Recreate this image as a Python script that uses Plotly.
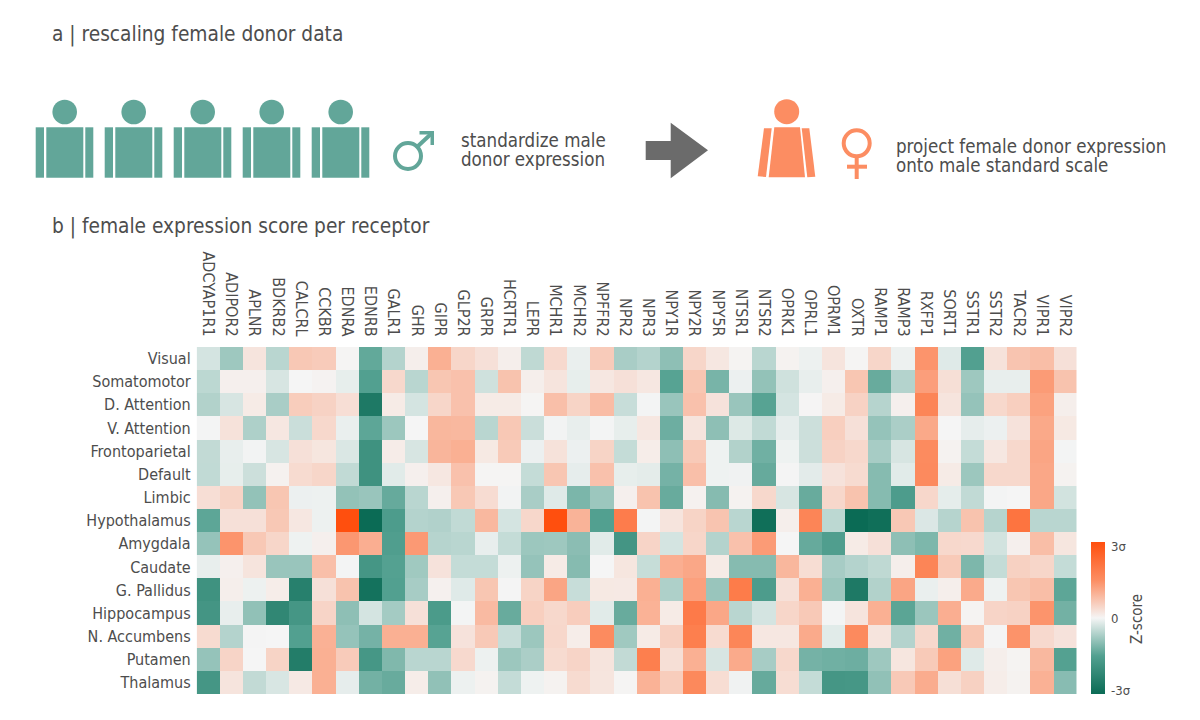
import plotly.graph_objects as go

receptors = ["ADCYAP1R1","ADIPOR2","APLNR","BDKRB2","CALCRL","CCKBR","EDNRA","EDNRB","GALR1","GHR","GIPR","GLP2R","GRPR","HCRTR1","LEPR","MCHR1","MCHR2","NPFFR2","NPR2","NPR3","NPY1R","NPY2R","NPY5R","NTSR1","NTSR2","OPRK1","OPRL1","OPRM1","OXTR","RAMP1","RAMP3","RXFP1","SORT1","SSTR1","SSTR2","TACR2","VIPR1","VIPR2"]
regions = ["Visual","Somatomotor","D. Attention","V. Attention","Frontoparietal","Default","Limbic","Hypothalamus","Amygdala","Caudate","G. Pallidus","Hippocampus","N. Accumbens","Putamen","Thalamus"]

visual = [-0.3,-0.8,0.25,-0.55,0.65,0.6,0.02,-1.35,-0.6,0.1,1.0,0.45,0.3,0.1,-0.5,0.4,-0.1,0.6,-0.7,-0.6,-0.95,0.45,0.2,0.03,-0.55,0.05,-0.07,0.25,0.02,0.45,-0.07,1.4,-0.2,-1.5,0.28,0.7,0.8,0.3]
somatomotor = [-0.52,0.08,0.08,-0.28,0,0.04,-0.13,-1.5,0.42,-0.55,0.68,0.75,-0.35,0.72,0.1,0.25,-0.13,0.2,0.3,0.2,-1.45,0.68,-1.15,-0.08,-0.9,-0.35,-0.12,0.08,0.68,-1.3,-0.6,1.25,0.32,-0.8,-0.12,-0.12,1.3,0.72]
d_attention = [-0.62,-0.28,0.15,-0.7,0.58,0.5,0.33,-2.6,0.15,-0.3,0.45,0.75,0.15,0.15,0.02,0.78,0.48,0.82,-0.42,-0.02,-0.85,0.75,0.27,-0.85,-1.45,-0.3,0.01,0.15,0.5,-0.58,0.08,1.7,0.25,-0.88,0.42,0.55,1.2,0.1]
v_attention = [-0.02,0.28,-0.65,0.2,-0.4,0.42,-0.1,-1.4,-0.82,0,0.9,0.88,-0.55,0.65,-0.4,-0.03,-0.12,-0.02,-0.13,0.2,-1.25,0.25,-0.95,-0.22,-0.48,-0.14,-0.38,0.55,0.3,-0.88,-0.68,1.1,0,-0.14,-0.08,0.27,1.1,0.18]
frontoparietal = [-0.47,-0.12,-0.03,-0.28,0.3,0.22,-0.25,-1.9,0.13,-0.28,0.92,1.0,0.18,0.62,-0.08,0.28,-0.08,0.48,-0.45,0.12,-0.95,0.62,-0.06,-0.62,-1.22,-0.06,-0.38,0.5,0.42,-0.72,-0.28,1.55,0.05,-0.45,0.2,0.42,1.15,-0.02]
default = [-0.48,-0.13,-0.38,0.06,0.38,0.45,-0.48,-1.9,-0.18,0.08,0.2,0.75,0.02,0.02,-0.45,0.68,-0.14,0.75,-0.13,-0.16,-1.18,0.78,-0.06,-0.05,-1.32,-0.01,-0.17,0.27,0.38,-1.02,-0.18,1.58,0.15,-0.82,0.42,0.42,1.12,0.05]
limbic = [0.33,0.48,-0.9,0.68,-0.08,-0.07,-0.9,-0.85,-1.32,-0.55,0.08,0.65,0.36,-0.03,-0.7,-0.2,-1.12,-0.82,0.08,0.72,-1.3,0.06,-1.02,0.05,0.42,-0.28,-1.3,0.43,0.72,-1.02,-1.6,0.43,-0.15,-0.48,-0.02,0,1.12,-0.32]
hypothalamus = [-1.4,0.3,0.3,0.65,0.2,-0.07,3,-3,-1.6,-0.6,-0.63,-0.48,0.88,-0.3,0.43,3,0.95,-1.5,1.9,-0.02,0.25,0.48,0.7,-0.55,-2.9,0.1,1.7,-0.52,-3,-2.9,0.65,-0.24,-0.58,0.72,-0.58,2.1,-0.55,-0.55]
amygdala = [-0.88,1.4,0.65,0.45,-0.06,0.08,1.35,1.02,-1.55,1.32,-0.58,-0.55,-0.12,-0.45,-0.82,-0.8,-0.98,-0.18,-1.8,0.47,-0.3,0.45,-0.6,0.75,1.3,0,-1.32,-1.55,0.15,0.3,-0.95,-1.1,0.42,0.4,-0.32,0.08,0.8,0.22]
caudate = [-0.12,0.08,0.25,-0.85,-0.85,0.78,-0.02,-1.78,-1.48,-0.78,0.27,-0.45,-0.45,-0.07,-0.88,0.15,-1.02,0,0.22,-0.43,1.02,1.12,0.15,-1.02,-1.02,0.9,0.35,-0.72,-0.6,-0.5,0.1,1.7,0.62,-1.1,-0.45,0.52,0.45,-0.45]
g_pallidus = [-1.9,0.1,-0.07,0.12,-2.4,0.3,0.72,-2.8,-1.5,-0.72,0.07,-0.2,0.68,-0.01,0.48,1.15,-0.42,0.18,0.17,1.0,-0.65,1.22,-0.85,1.92,-1.6,0.3,1.0,-0.82,-2.6,-0.62,1.15,-0.1,0.1,1.08,-0.06,0.68,0.8,-1.4]
hippocampus = [-1.8,-0.12,-0.92,-2.2,-1.78,0.47,-0.95,-0.3,-0.75,0.3,-1.65,-0.02,0.85,-1.3,0.55,0.42,0.57,-0.18,-1.3,0.97,0.15,1.95,1.12,-0.55,-0.3,0.45,0.63,-0.02,0.25,1.0,-1.42,-0.83,1.02,0.03,0.47,0.5,1.4,-1.2]
n_accumbens = [0.38,-0.6,-0.01,0,-1.5,0.98,-0.88,-1.18,1,1,-1.45,0.27,0.63,-0.42,-0.82,0.43,0.12,1.55,-0.78,0.15,0.53,1.85,0.38,1.68,0.2,0.2,1.08,-0.18,1.58,0.25,-0.6,0.42,-1.22,0.68,-0.01,1.42,0.4,0.27]
putamen = [-0.88,0.47,0,0.48,-2.5,1.0,0.6,-1.75,-1.08,-0.55,-0.55,0.4,-0.07,-0.82,-0.68,0.38,0.47,0.25,-0.47,1.85,0.32,1.0,-0.28,1.08,-0.72,0.42,-1.18,-1.22,-1.25,-0.8,0.22,0.62,1.2,-0.2,0.1,0.03,0.88,-1.48]
thalamus = [-1.78,0.25,-0.47,-0.27,0.17,1.0,-0.14,-1.2,-1.3,0.12,-0.92,-0.07,0.05,-0.45,-0.06,0.05,0.38,0.23,0.02,0.97,0.58,1.6,0.35,-0.05,-1.32,0.35,-0.45,-1.78,-1.75,-0.92,0.63,1.05,0.32,0.52,0.12,0.05,0.98,-1.0]

z = [visual,somatomotor,d_attention,v_attention,frontoparietal,default,limbic,hypothalamus,amygdala,caudate,g_pallidus,hippocampus,n_accumbens,putamen,thalamus]

W, H = 1200, 720
FONT = "DejaVu Sans Condensed, DejaVu Sans"
TXT = "#4d4d4d"
TEAL = "#62a699"
CORAL = "#fc8d62"
GREY = "#6b6b6b"
px = lambda x: x / W
py = lambda y: 1 - y / H

colorscale = [[0, "#0b6b55"], [0.25, "#52a090"], [0.5, "#f5f5f5"], [0.75, "#fc8d62"], [1, "#ff4f0e"]]

fig = go.Figure(go.Heatmap(
    z=z, x=receptors, y=regions, zmin=-3, zmax=3, colorscale=colorscale, xgap=0, ygap=0,
    colorbar=dict(
        x=px(1091), xanchor="left", y=py(694.3), yanchor="bottom", len=(694.3-542.7)/H, lenmode="fraction",
        thickness=14, thicknessmode="pixels", outlinewidth=0, ticks="outside", ticklen=4, tickcolor="rgba(0,0,0,0)", xpad=0, ypad=0,
        tickvals=[-2.85, 0, 2.85], ticktext=["-3σ", "0", "3σ"],
        tickfont=dict(size=13, color=TXT, family=FONT),
    ),
))

shapes = []
def path(points, color):
    d = "M " + " L ".join(f"{px(x):.5f},{py(y):.5f}" for x, y in points) + " Z"
    shapes.append(dict(type="path", path=d, xref="paper", yref="paper", fillcolor=color, line=dict(width=0)))
def circle(cx, cy, r, fill=None, stroke=None, w=0):
    shapes.append(dict(type="circle", xref="paper", yref="paper", x0=px(cx-r), x1=px(cx+r), y0=py(cy+r), y1=py(cy-r),
                       fillcolor=fill if fill else "rgba(0,0,0,0)", line=dict(color=stroke if stroke else "rgba(0,0,0,0)", width=w)))
def line(x0, y0, x1, y1, color, w):
    shapes.append(dict(type="line", xref="paper", yref="paper", x0=px(x0), x1=px(x1), y0=py(y0), y1=py(y1), line=dict(color=color, width=w)))

for i in range(5):
    o = 69 * i
    circle(64.7 + o, 112, 12.3, fill=TEAL)
    for x0, x1 in [(35.7, 44), (46.3, 83.3), (85.3, 93.3)]:
        path([(x0+o,127.3),(x1+o,127.3),(x1+o,177.7),(x0+o,177.7)], TEAL)

# male symbol
circle(408, 156, 13, stroke=TEAL, w=4)
line(417, 147, 432, 133, TEAL, 4)
path([(419.5,131),(434,131),(434,145),(430.5,145),(430.5,134.5),(419.5,134.5)], TEAL)

# arrow
path([(645.7,141),(670.7,141),(670.7,122.7),(708,150.3),(670.7,178.3),(670.7,160),(645.7,160)], GREY)

# female figure
circle(786.7, 111.7, 12.5, fill=CORAL)
path([(774.3,127.3),(800,127.3),(805,177.3),(768.7,177.3)], CORAL)
path([(764,128.3),(771.7,128.3),(766,177),(757.7,176.3)], CORAL)
path([(801.7,128.3),(809.3,128.3),(815.3,176.7),(807.3,177.3)], CORAL)

# female symbol
circle(856.7, 143.3, 13, stroke=CORAL, w=4)
line(856.7, 157, 856.7, 179, CORAL, 4)
line(847, 166.7, 867, 166.7, CORAL, 4)

def text(x, y, s, size):
    return dict(text=s, x=px(x), y=py(y), xref="paper", yref="paper", xanchor="left", yanchor="middle",
                showarrow=False, font=dict(size=size, color=TXT, family=FONT))

annotations = [
    text(50, 34.5, "a | rescaling female donor data", 20.7),
    text(50, 226, "b | female expression score per receptor", 20.7),
    text(459, 140.5, "standardize male", 18.6),
    text(459, 159.5, "donor expression", 18.6),
    text(894, 146.5, "project female donor expression", 18.6),
    text(894, 165.5, "onto male standard scale", 18.6),
    dict(text="Z-score", x=px(1137), y=py(619), xref="paper", yref="paper", xanchor="center", yanchor="middle",
         textangle=-90, showarrow=False, font=dict(size=15, color=TXT, family=FONT)),
]

fig.update_layout(
    width=W, height=H, margin=dict(l=0, r=0, t=0, b=0),
    paper_bgcolor="white", plot_bgcolor="white",
    shapes=shapes, annotations=annotations,
    xaxis=dict(domain=[px(196.7), px(1076.7)], side="top", tickangle=90, ticks="", showline=False, showgrid=False,
               zeroline=False, tickfont=dict(size=16, color=TXT, family=FONT), tickmode="array", tickvals=receptors, ticktext=receptors, ticklabelstandoff=7),
    yaxis=dict(domain=[py(694.3), py(347)], autorange="reversed", ticks="", showline=False, showgrid=False,
               zeroline=False, tickfont=dict(size=16, color=TXT, family=FONT), tickmode="array", tickvals=regions, ticktext=regions, ticklabelstandoff=5),
)

fig.write_html("out.html", config=dict(displayModeBar=False),
               post_script="document.body.style.margin='0';window.dispatchEvent(new Event('resize'));")
